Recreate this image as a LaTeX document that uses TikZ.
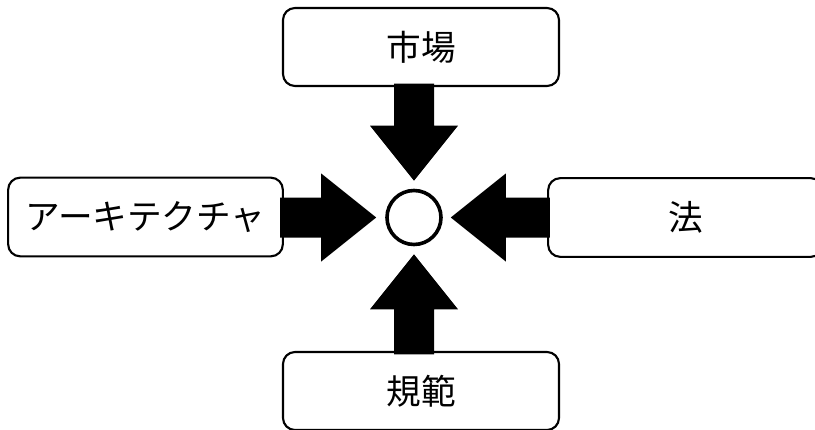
\documentclass[tikz,border=0pt]{standalone}
\usepackage{fontspec}
\newfontfamily\jpfont{Noto Sans CJK JP}
\begin{document}
\begin{tikzpicture}[x=0.75pt,y=-0.75pt,
  box/.style={draw=black,line width=1.6pt,rounded corners=9pt,fill=white,inner sep=0pt,
    font=\jpfont\fontsize{26}{30}\selectfont},
  hub/.style={draw=black,line width=2.7pt,circle,inner sep=0pt,minimum size=40.5pt},
  blk/.style={fill=black}]
\useasboundingbox (0,0) rectangle (815,429);
\clip (0,0) rectangle (815,429);
\node[box,minimum width=207pt,minimum height=58.5pt] (shijo) at (421,47) {市場};
\node[box,minimum width=206pt,minimum height=59pt] (arch) at (145.5,217) {アーキテクチャ};
\node[box,minimum width=206pt,minimum height=59pt] (ho) at (685.5,217.5) {法};
\node[box,minimum width=207pt,minimum height=58.5pt] (kihan) at (421,391) {規範};
\node[hub] (c) at (414,217.5) {};
\newcommand\blockarrow[3]{%
  \fill[blk,shift={#1},rotate=#2] (0,0) -- (-55,44) -- (-55,20) -- (-#3,20) -- (-#3,-20) -- (-55,-20) -- (-55,-44) -- cycle;}
% top: tip at (414,182), base at box bottom y=86
\coordinate (ttip) at ([yshift=8*0.75pt]c.north);
\blockarrow{(ttip)}{-90}{97}
% bottom: tip at (414,253)
\coordinate (btip) at ([yshift=-8*0.75pt]c.south);
\blockarrow{(btip)}{90}{100}
% left: tip at (378,217.5)
\coordinate (ltip) at ([xshift=-9*0.75pt]c.west);
\blockarrow{(ltip)}{0}{96}
% right: tip at (450,217.5)
\coordinate (rtip) at ([xshift=8*0.75pt]c.east);
\blockarrow{(rtip)}{180}{99}
\end{tikzpicture}
\end{document}
